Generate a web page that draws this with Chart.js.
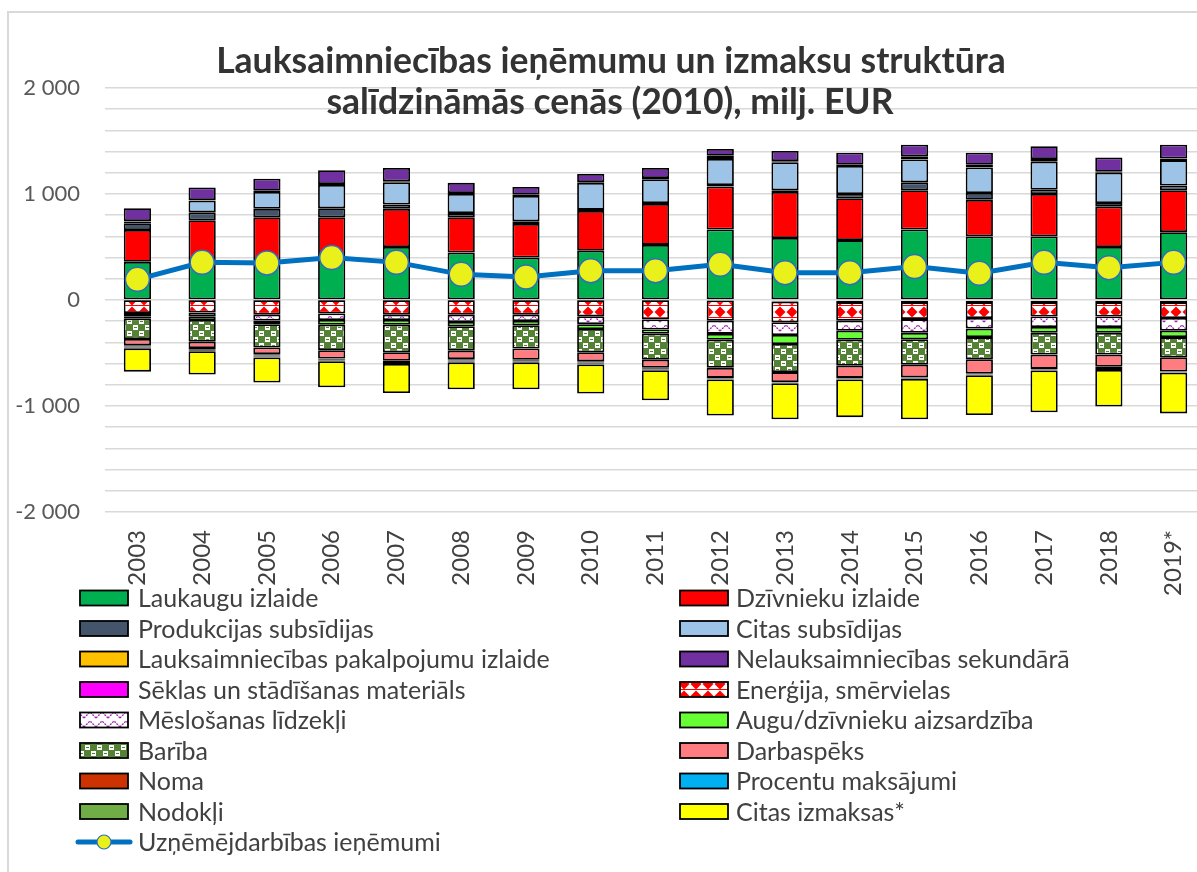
<!DOCTYPE html>
<html>
<head>
<meta charset="utf-8">
<script src="https://cdn.jsdelivr.net/npm/chart.js@4.4.1/dist/chart.umd.min.js"></script>
<style>
  html, body { margin: 0; padding: 0; background: #fff; overflow: hidden; }
  canvas { display: block; }
</style>
</head>
<body>
<canvas id="chart" width="1220" height="872"></canvas>
<script>
// categories
const years = ['2003', '2004', '2005', '2006', '2007', '2008', '2009', '2010', '2011',
               '2012', '2013', '2014', '2015', '2016', '2017', '2018', '2019*'];

// income side (milj. EUR)
const laukaugi     = [360, 377, 335, 385, 500, 447, 400, 465, 520, 665, 585, 565, 665, 600, 600, 500, 640];
const dzivnieki    = [300, 375, 445, 395, 360, 333, 317, 375, 385, 405, 435, 395, 370, 345, 400, 380, 395];
const prodSubs     = [65, 75, 80, 85, 40, 40, 25, 10, 10, 15, 15, 40, 75, 65, 40, 35, 45];
const citasSubs    = [15, 110, 160, 220, 210, 180, 240, 255, 225, 245, 265, 265, 215, 240, 265, 285, 240];
const pakalpojumi  = [5, 5, 10, 10, 10, 10, 10, 8, 10, 30, 10, 10, 30, 25, 25, 10, 15];
const sekundara    = [120, 120, 115, 130, 125, 95, 75, 75, 95, 65, 95, 115, 110, 115, 120, 135, 130];

// costs (negative)
const seklas       = [-3, -3, -3, -3, -3, -3, -3, -3, -3, -5, -15, -20, -20, -20, -20, -20, -20];
const energija     = [-120, -115, -135, -125, -135, -135, -135, -150, -180, -190, -195, -175, -160, -150, -135, -135, -150];
const meslosana    = [-30, -35, -55, -60, -50, -70, -60, -75, -95, -125, -120, -95, -130, -100, -100, -100, -120];
const aizsardziba  = [-20, -35, -35, -45, -45, -40, -40, -45, -40, -55, -85, -85, -60, -80, -55, -55, -60];
const bariba       = [-195, -205, -220, -240, -260, -230, -220, -220, -245, -265, -265, -245, -240, -210, -205, -205, -190];
const darbaspeks   = [-60, -60, -63, -80, -80, -80, -105, -85, -75, -95, -95, -115, -120, -135, -135, -115, -135];
const noma         = [-10, -12, -12, -10, -12, -12, -10, -12, -10, -6, -4, -6, -6, -6, -6, -12, -4];
const procenti     = [-10, -10, -11, -8, -10, -10, -8, -10, -8, -5, -3, -5, -5, -5, -5, -10, -3];
const nodokli      = [-8, -8, -8, -7, -8, -8, -7, -8, -7, -4, -3, -4, -4, -4, -4, -8, -3];
const citasIzm     = [-220, -220, -236, -245, -275, -255, -255, -275, -283, -340, -340, -355, -380, -375, -395, -345, -385];

// line
const ienemumi     = [195, 355, 350, 400, 355, 242, 217, 277, 277, 337, 258, 258, 315, 252, 355, 305, 355];

const FONT = 'Lato, "Noto Sans", sans-serif';
const canvas = document.getElementById('chart');
const ctx = canvas.getContext('2d');

function makePattern(w, h, draw) {
    const c = document.createElement('canvas');
    c.width = w;
    c.height = h;
    draw(c.getContext('2d'));
    return ctx.createPattern(c, 'repeat');
}

// Enerģija: red diamonds on white
const energyPattern = makePattern(12, 12, g => {
    g.fillStyle = '#fff';
    g.fillRect(0, 0, 12, 12);
    g.fillStyle = '#FF0000';
    [[0, 0], [12, 0], [0, 12], [12, 12]].forEach(([cx, cy]) => {
        g.beginPath();
        g.moveTo(cx - 5.5, cy);
        g.lineTo(cx, cy - 5.5);
        g.lineTo(cx + 5.5, cy);
        g.lineTo(cx, cy + 5.5);
        g.closePath();
        g.fill();
    });
    g.fillRect(0, 5, 12, 1);
});

// Mēslošanas līdzekļi: purple zigzag on white
const zigzagPattern = makePattern(12, 9, g => {
    g.fillStyle = '#fff';
    g.fillRect(0, 0, 12, 9);
    g.strokeStyle = '#A020B0';
    g.lineWidth = 1.3;
    g.setLineDash([2, 1]);
    g.beginPath();
    g.moveTo(0, 7);
    g.lineTo(6, 1);
    g.lineTo(12, 7);
    g.stroke();
});

// Barība: green with white blobs
const feedPattern = makePattern(12, 12, g => {
    g.fillStyle = '#548235';
    g.fillRect(0, 0, 12, 12);
    g.fillStyle = '#fff';
    g.fillRect(1, 1, 5, 5);
    g.fillRect(7, 7, 5, 5);
    g.fillStyle = '#548235';
    g.fillRect(2, 3, 3, 1);
    g.fillRect(8, 9, 3, 1);
});

function barSet(label, data, color) {
    return {
        label: label,
        data: data,
        backgroundColor: color,
        borderColor: '#000',
        borderWidth: 1.8,
        borderSkipped: false,
        barPercentage: 0.42,
        categoryPercentage: 1,
        order: 2
    };
}

const datasets = [
    barSet('Laukaugu izlaide', laukaugi, '#00B050'),
    barSet('Dzīvnieku izlaide', dzivnieki, '#FF0000'),
    barSet('Produkcijas subsīdijas', prodSubs, '#44546A'),
    barSet('Citas subsīdijas', citasSubs, '#9DC3E6'),
    barSet('Lauksaimniecības pakalpojumu izlaide', pakalpojumi, '#FFC000'),
    barSet('Nelauksaimniecības sekundārā', sekundara, '#7030A0'),
    barSet('Sēklas un stādīšanas materiāls', seklas, '#FF00FF'),
    barSet('Enerģija, smērvielas', energija, energyPattern),
    barSet('Mēslošanas līdzekļi', meslosana, zigzagPattern),
    barSet('Augu/dzīvnieku aizsardzība', aizsardziba, '#66FF33'),
    barSet('Barība', bariba, feedPattern),
    barSet('Darbaspēks', darbaspeks, '#FF7C80'),
    barSet('Noma', noma, '#CC3300'),
    barSet('Procentu maksājumi', procenti, '#00B0F0'),
    barSet('Nodokļi', nodokli, '#70AD47'),
    barSet('Citas izmaksas*', citasIzm, '#FFFF00'),
    {
        type: 'line',
        label: 'Uzņēmējdarbības ieņēmumi',
        data: ienemumi,
        borderColor: '#0070C0',
        borderWidth: 5,
        pointRadius: 12,
        pointBackgroundColor: '#EAF01A',
        pointBorderColor: '#2F6EBA',
        pointBorderWidth: 1.5,
        tension: 0,
        order: 1
    }
];

const titleLines = ['Lauksaimniecības ieņēmumu un izmaksu struktūra', 'salīdzināmās cenās (2010), milj. EUR'];

const framePlugin = {
    id: 'frame',
    beforeDraw(chart) {
        const c = chart.ctx;
        c.save();
        c.fillStyle = '#fff';
        c.fillRect(0, 0, chart.width, chart.height);
        c.strokeStyle = '#D9D9D9';
        c.lineWidth = 2;
        c.strokeRect(8, 12, chart.width + 50, chart.height + 50);
        c.restore();
    }
};

const titlePlugin = {
    id: 'bigTitle',
    afterDraw(chart) {
        const c = chart.ctx;
        c.save();
        c.fillStyle = '#333333';
        c.font = 'bold 35.5px ' + FONT;
        c.textAlign = 'center';
        c.textBaseline = 'middle';
        c.fillText(titleLines[0], 611, 62);
        c.fillText(titleLines[1], 610, 103);
        c.restore();
    }
};

const legendPlugin = {
    id: 'sideLegend',
    afterDraw(chart) {
        const c = chart.ctx;
        c.save();
        c.font = '25px ' + FONT;
        c.textBaseline = 'middle';
        chart.data.datasets.forEach((ds, i) => {
            const row = Math.floor(i / 2);
            const col = i % 2;
            const y = 598 + row * 30.5;
            const bx = col === 0 ? 80 : 680;
            const tx = col === 0 ? 138 : 736;
            if (ds.type === 'line') {
                c.strokeStyle = ds.borderColor;
                c.lineWidth = 5;
                c.lineCap = 'round';
                c.beginPath();
                c.moveTo(bx - 2, y);
                c.lineTo(bx + 50, y);
                c.stroke();
                c.beginPath();
                c.arc(bx + 24, y, 7, 0, Math.PI * 2);
                c.fillStyle = ds.pointBackgroundColor;
                c.fill();
                c.lineWidth = 1.2;
                c.strokeStyle = ds.pointBorderColor;
                c.stroke();
            } else {
                c.fillStyle = ds.backgroundColor;
                c.fillRect(bx, y - 7.5, 48, 15);
                c.strokeStyle = '#000';
                c.lineWidth = 1.8;
                c.strokeRect(bx, y - 7.5, 48, 15);
            }
            c.fillStyle = '#404040';
            c.fillText(ds.label, tx, y + 1);
        });
        c.restore();
    }
};

function fmtTick(v) {
    if (v === 0) return '0';
    return (v < 0 ? '-' : '') + Math.abs(v / 1000) + ' 000';
}

new Chart(canvas, {
    type: 'bar',
    data: { labels: years, datasets: datasets },
    options: {
        responsive: false,
        animation: false,
        events: [],
        layout: { padding: { top: 88, bottom: 270, left: 0, right: 14 } },
        scales: {
            x: {
                stacked: true,
                grid: { display: false },
                border: { display: false },
                ticks: {
                    minRotation: 90,
                    maxRotation: 90,
                    autoSkip: false,
                    padding: 10,
                    color: '#404040',
                    font: { family: FONT, size: 24 }
                },
                afterFit(scale) { scale.height = 90; }
            },
            y: {
                stacked: true,
                min: -2000,
                max: 2000,
                grid: { color: '#D9D9D9', lineWidth: 1.5, drawTicks: false },
                border: { display: false },
                ticks: {
                    stepSize: 200,
                    autoSkip: false,
                    padding: 25,
                    color: '#595959',
                    font: { family: FONT, size: 22 },
                    callback: v => (v % 1000 === 0 ? fmtTick(v) : '')
                },
                afterFit(scale) { scale.width = 105; }
            }
        },
        plugins: {
            legend: { display: false },
            title: { display: false },
            tooltip: { enabled: false }
        }
    },
    plugins: [framePlugin, titlePlugin, legendPlugin]
});
</script>
</body>
</html>
